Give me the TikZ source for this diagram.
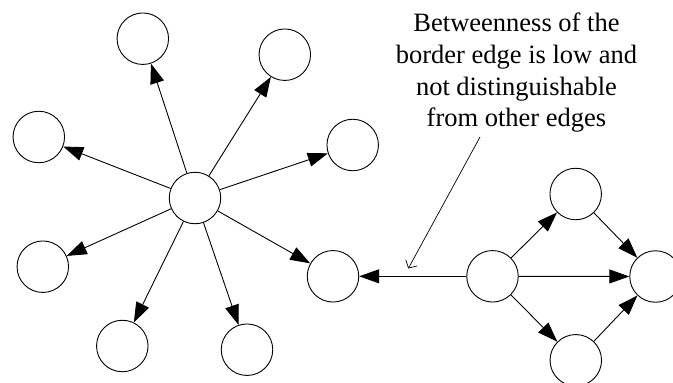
\documentclass[tikz,border=0pt]{standalone}
\usepackage{fontspec}
\setmainfont{Liberation Serif}
\usetikzlibrary{arrows.meta}
\begin{document}
\begin{tikzpicture}[x=1pt,y=-1pt,
  vtx/.style={circle,draw=black,line width=0.9pt,minimum size=51.5pt,inner sep=0pt,fill=white},
  edge/.style={draw=black,line width=0.9pt,-{Triangle[length=20pt,width=14pt]}},
  note/.style={draw=black,line width=0.7pt,-{Straight Barb[length=6pt,width=13pt]}}]
\useasboundingbox (0,0) rectangle (673,383);
\node[vtx] (c) at (195,198) {};
\node[vtx] (n1) at (142.8,38.7) {};
\node[vtx] (n2) at (284.8,54.7) {};
\node[vtx] (n3) at (38.8,137) {};
\node[vtx] (n4) at (352.7,145) {};
\node[vtx] (n5) at (42.8,266.7) {};
\node[vtx] (n6) at (122.3,346) {};
\node[vtx] (n7) at (247,349.7) {};
\node[vtx] (n8) at (333,276.3) {};
\node[vtx] (d0) at (492.5,276.3) {};
\node[vtx] (d1) at (575.7,194) {};
\node[vtx] (d2) at (655.5,276.5) {};
\node[vtx] (d3) at (575.8,360.3) {};
\foreach \t in {n1,n2,n3,n4,n5,n6,n7,n8} \draw[edge] (c) -- (\t);
\draw[edge] (d0) -- (n8);
\draw[edge] (d0) -- (d1);
\draw[edge] (d0) -- (d2);
\draw[edge] (d0) -- (d3);
\draw[edge] (d1) -- (d2);
\draw[edge] (d3) -- (d2);
\node[align=center,anchor=base,inner sep=0pt,font=\fontsize{26.5}{31.7}\selectfont] (txt) at (516.5,126.7)
  {Betweenness of the\\border edge is low and\\not distinguishable\\from other edges};
\coordinate (ns) at (480,137);
\coordinate (ne) at (408.3,268.5);
\draw[note] (ns) -- (ne);
\end{tikzpicture}
\end{document}
